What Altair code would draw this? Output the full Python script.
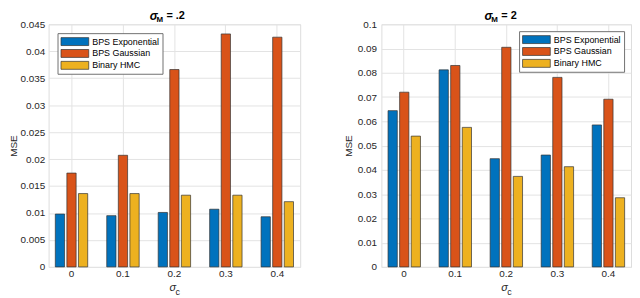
import altair as alt
import pandas as pd

sigma_c = ["0", "0.1", "0.2", "0.3", "0.4"]
methods = ["BPS Exponential", "BPS Gaussian", "Binary HMC"]
colors = ["#0072BD", "#D95319", "#EDB120"]

left_exp = [0.0098, 0.0095, 0.0101, 0.0107, 0.0093]
left_gau = [0.0174, 0.0207, 0.0366, 0.0432, 0.0426]
left_hmc = [0.0136, 0.0136, 0.0133, 0.0133, 0.0121]

right_exp = [0.0644, 0.0812, 0.0446, 0.0461, 0.0585]
right_gau = [0.0720, 0.0830, 0.0905, 0.0781, 0.0691]
right_hmc = [0.0539, 0.0575, 0.0373, 0.0413, 0.0285]

left_ticks = [0, 0.005, 0.01, 0.015, 0.02, 0.025, 0.03, 0.035, 0.04, 0.045]
right_ticks = [0, 0.01, 0.02, 0.03, 0.04, 0.05, 0.06, 0.07, 0.08, 0.09, 0.1]

FONT = "Liberation Sans"
H = 245


def make_df(e, g, b):
    rows = []
    for i, s in enumerate(sigma_c):
        rows.append({"sc": s, "method": methods[0], "mse": e[i]})
        rows.append({"sc": s, "method": methods[1], "mse": g[i]})
        rows.append({"sc": s, "method": methods[2], "mse": b[i]})
    return pd.DataFrame(rows)


def text_layer(txt, x, y, size, italic=False, bold=True, color="#000000"):
    return alt.Chart(pd.DataFrame({"t": [txt]})).mark_text(
        font=FONT, fontSize=size, fontWeight="bold" if bold else "normal",
        fontStyle="italic" if italic else "normal", align="left",
        baseline="middle", color=color
    ).encode(text="t:N", x=alt.value(x), y=alt.value(y))


def panel(df, ymax, ticks, orient, offset, title_rest, w, title_x, xt_x, tpad, lpad):
    bars = alt.Chart(df).mark_bar(stroke="#333333", strokeWidth=0.7).encode(
        x=alt.X("sc:N", sort=sigma_c,
                scale=alt.Scale(paddingInner=0.37, paddingOuter=0.13),
                axis=alt.Axis(title=None, labelAngle=0, bandPosition=0.5, grid=True,
                              gridColor="#e3e3e3", ticks=False, domain=False,
                              labelPadding=2, labelFont=FONT, labelFontSize=10,
                              labelColor="#262626")),
        xOffset=alt.XOffset("method:N", sort=methods,
                            scale=alt.Scale(paddingInner=0.2, paddingOuter=0)),
        y=alt.Y("mse:Q", scale=alt.Scale(domain=[0, ymax], nice=False),
                axis=alt.Axis(values=ticks, format="~g", title="MSE", grid=True,
                              gridColor="#e3e3e3", ticks=False, domain=False,
                              labelPadding=lpad, labelFont=FONT, labelFontSize=10,
                              labelColor="#262626", titleFont=FONT, titleFontSize=10,
                              titleFontWeight="normal", titleColor="#262626",
                              titlePadding=tpad)),
        color=alt.Color("method:N", sort=methods,
                        scale=alt.Scale(domain=methods, range=colors),
                        legend=alt.Legend(title=None, orient=orient, offset=offset,
                                          padding=3, strokeColor="#707070",
                                          fillColor="white",
                                          symbolType="M-1,-0.8H4.6V0.8H-1Z",
                                          symbolSize=100, symbolStrokeColor="#333333",
                                          symbolStrokeWidth=0.7, symbolOpacity=1,
                                          labelFont=FONT, labelFontSize=9,
                                          labelColor="#000000", labelOffset=21,
                                          rowPadding=1)),
    )
    layers = [
        bars,
        text_layer("σ", title_x, -8, 12, italic=True),
        text_layer("M", title_x + 7, -4, 8),
        text_layer(title_rest, title_x + 17, -8, 11),
        text_layer("σ", xt_x, H + 21, 11, italic=True, bold=False, color="#262626"),
        text_layer("c", xt_x + 6, H + 25, 9, bold=False, color="#262626"),
    ]
    return alt.layer(*layers).properties(width=w, height=H)


left = panel(make_df(left_exp, left_gau, left_hmc), 0.045, left_ticks,
             "top-left", 9, "= .2", 254, 102, 122, 1, 4)
right = panel(make_df(right_exp, right_gau, right_hmc), 0.1, right_ticks,
              "top-right", 7, "= 2", 252, 104, 121, 4, 5)

chart = alt.hconcat(left, right, spacing=42).resolve_scale(
    y="independent", color="independent"
).resolve_legend(color="independent").properties(
    padding={"left": 0, "top": 0, "right": 0, "bottom": 0}
).configure_view(stroke="#404040", strokeWidth=0.6).configure(background="white")

chart.save("out.html", embed_options={"renderer": "svg", "actions": False})
